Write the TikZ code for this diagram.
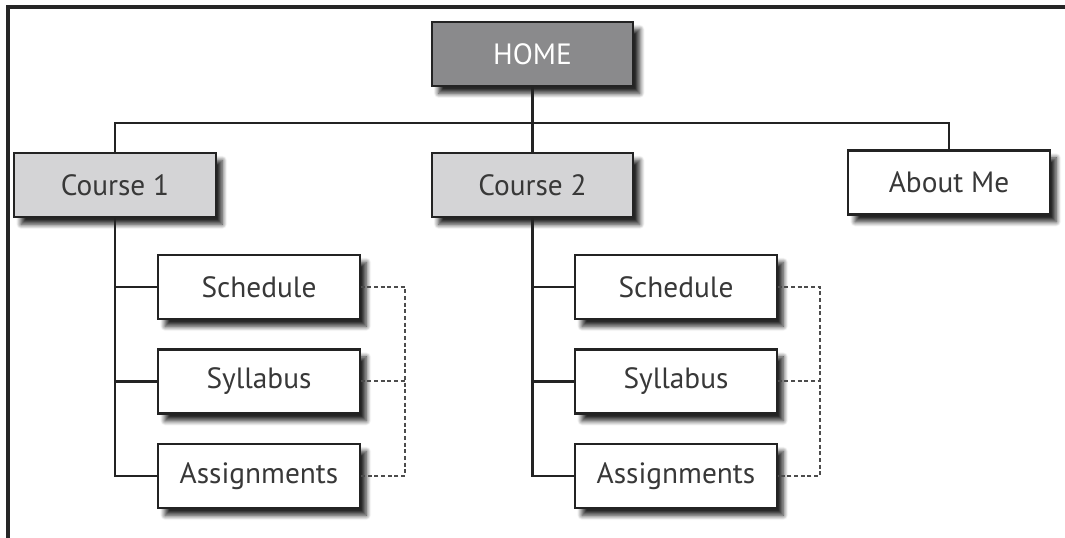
\documentclass[tikz,border=0pt]{standalone}
\usepackage{fontspec}
\setmainfont{PT Sans}
\usetikzlibrary{shadows.blur}
\definecolor{homefill}{RGB}{138,138,140}
\definecolor{coursefill}{RGB}{212,212,214}
\definecolor{edge}{RGB}{35,35,35}
\begin{document}
\begin{tikzpicture}[x=0.75pt,y=-0.75pt,
  box/.style={draw=edge,line width=1.6pt,fill=white,minimum width=151pt,minimum height=48pt,inner sep=0pt,
    font=\fontsize{22}{26}\selectfont,text=black!78,
    blur shadow={shadow xshift=5pt,shadow yshift=-5.5pt,shadow blur steps=8,shadow blur radius=3.5pt,shadow opacity=85}},
  homebox/.style={box,fill=homefill,text=white},
  coursebox/.style={box,fill=coursefill},
  link/.style={draw=edge,line width=1.8pt},
  dashlink/.style={draw=black!70,line width=1.5pt,dash pattern=on 3pt off 2pt}]
\useasboundingbox (0,0) rectangle (1065,538);
\draw[line width=2.6pt,draw=black!85] (8,540) -- (8,7) -- (1066,7);
% nodes
\node[homebox] (home) at (532.5,54) {HOME};
\node[coursebox] (c1) at (115,185) {Course 1};
\node[coursebox] (c2) at (532.5,185) {Course 2};
\node[box] (about) at (949,182.5) {About Me};
\node[box] (s1) at (259,287) {Schedule};
\node[box] (y1) at (259,381.5) {Syllabus};
\node[box] (a1) at (259,476) {Assignments};
\node[box] (s2) at (676,287) {Schedule};
\node[box] (y2) at (676,381.5) {Syllabus};
\node[box] (a2) at (676,476) {Assignments};
\coordinate (bus) at (532.5,123);
\coordinate (dL) at (405,381.5);
\coordinate (dR) at (820,381.5);
% connectors
\draw[link] (home.south) -- (c2.north);
\draw[link] (c1.north) |- (bus) -| (about.north);
\draw[link] (c1.south) |- (a1.west);
\draw[link] (s1.west) -- (s1.west -| c1.south);
\draw[link] (y1.west) -- (y1.west -| c1.south);
\draw[link] (c2.south) |- (a2.west);
\draw[link] (s2.west) -- (s2.west -| c2.south);
\draw[link] (y2.west) -- (y2.west -| c2.south);
\draw[dashlink] (s1.east) -- (s1.east -| dL) |- (a1.east);
\draw[dashlink] (y1.east) -- (dL);
\draw[dashlink] (s2.east) -- (s2.east -| dR) |- (a2.east);
\draw[dashlink] (y2.east) -- (dR);
\end{tikzpicture}
\end{document}
